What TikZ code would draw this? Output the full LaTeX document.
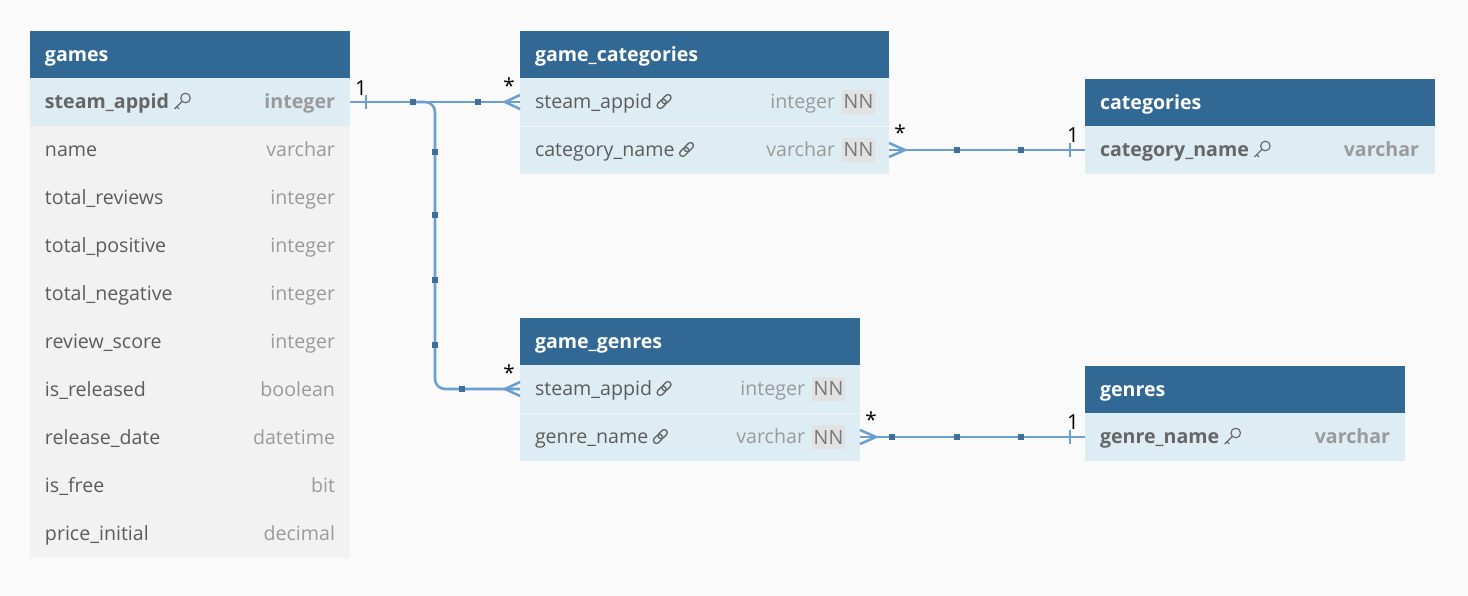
\documentclass[tikz,border=0pt]{standalone}
\usepackage{fontspec}
\setmainfont{Open Sans}
\usetikzlibrary{calc}
\definecolor{hdr}{HTML}{316894}
\definecolor{rowb}{HTML}{DEECF4}
\definecolor{rowg}{HTML}{F2F2F2}
\definecolor{bgc}{HTML}{FAFAFA}
\definecolor{lnk}{HTML}{6A9FD0}
\definecolor{sqc}{HTML}{3E6F9A}
\definecolor{fcol}{HTML}{5C5C5C}
\definecolor{pkcol}{HTML}{666666}
\definecolor{tcol}{HTML}{9A9A9A}
\definecolor{nnfill}{HTML}{E2E2E2}
\definecolor{nncol}{HTML}{777777}
\newcommand\fsz{\fontsize{14.7}{17.5}\selectfont}
\begin{document}
\begin{tikzpicture}[x=0.75pt,y=-0.75pt,
  every node/.style={inner sep=0pt, outer sep=0pt},
  hdrbox/.style={fill=hdr, anchor=north west, minimum height=35.25pt},
  rowbox/.style={fill=#1, anchor=north west, minimum height=36pt},
  htxt/.style={text=white, font=\fsz\bfseries, anchor=base west},
  fname/.style={text=fcol, font=\fsz, anchor=base west},
  ftype/.style={text=tcol, font=\fsz, anchor=base east},
  pkname/.style={text=pkcol, font=\fsz\bfseries, anchor=base west},
  pktype/.style={text=tcol, font=\fsz\bfseries, anchor=base east},
  nnbadge/.style={fill=nnfill, rounded corners=1.5pt, text=nncol, font=\fsz, minimum height=18pt, minimum width=24.75pt, anchor=east},
  rel/.style={draw=lnk, line width=1.9pt},
  sqr/.style={fill=sqc, minimum size=3.9pt, inner sep=0pt},
  card/.style={font=\fontsize{15.5}{18}\selectfont, text=black},
  keyicon/.pic={
    \draw[pkcol, line width=0.85pt] (3.5,-3.5) circle (4.8);
    \draw[pkcol, line width=0.85pt] (0.1,-0.1) -- (-7.5,7.5) (-5.2,5.2) -- (-3,7.4);
  },
  linkicon/.pic={
    \begin{scope}[rotate=45]
      \draw[pkcol, line width=1pt, rounded corners=2.1pt] (-8.5,-3) rectangle (1.8,3);
      \draw[pkcol, line width=1pt, rounded corners=2.1pt] (-1.8,-3) rectangle (8.5,3);
    \end{scope}
  }
]
\fill[bgc] (0,0) rectangle (1468,596);
\useasboundingbox (0,0) rectangle (1468,596);

% ---------------- games
\node[hdrbox, minimum width=240pt] (gamesH) at (30,31) {};
\node[htxt] (gamesT) at (45,61) {games};
\node[rowbox=rowb, minimum width=240pt] (g1) at (30,78) {};
\node[pkname] (g1n) at (45,108.5) {steam\_appid};
\pic at ($(g1n.base east)+(13,-7)$) {keyicon};
\node[pktype] (g1t) at (335,108.5) {integer};
\foreach \i/\n/\t in {2/name/varchar, 3/total\_reviews/integer, 4/total\_positive/integer,
  5/total\_negative/integer, 6/review\_score/integer, 7/is\_released/boolean,
  8/release\_date/datetime, 9/is\_free/bit, 10/price\_initial/decimal} {
  \node[rowbox=rowg, minimum width=240pt] (g\i) at (30,{78+48*(\i-1)}) {};
  \node[fname] (g\i n) at (45,{108.5+48*(\i-1)}) {\n};
  \node[ftype] (g\i t) at (335,{108.5+48*(\i-1)}) {\t};
}

% ---------------- game_categories
\node[hdrbox, minimum width=276.75pt] (gcH) at (520,31) {};
\node[htxt] (gcT) at (535,61) {game\_categories};
\node[rowbox=rowb, minimum width=276.75pt] (gc1) at (520,78) {};
\node[rowbox=rowb, minimum width=276.75pt] (gc2) at (520,126) {};
\draw[white!55!rowb, line width=0.6pt] (gc2.north west) -- (gc2.north east);
\node[fname] (gc1n) at (535,108.5) {steam\_appid};
\pic at ($(gc1n.base east)+(12,-7)$) {linkicon};
\node[nnbadge] (gc1b) at (875,102) {NN};
\node[ftype] (gc1t) at ($(gc1b.west)+(-7,6.5)$) {integer};
\node[fname] (gc2n) at (535,156.5) {category\_name};
\pic at ($(gc2n.base east)+(12,-7)$) {linkicon};
\node[nnbadge] (gc2b) at (875,150) {NN};
\node[ftype] (gc2t) at ($(gc2b.west)+(-7,6.5)$) {varchar};

% ---------------- categories
\node[hdrbox, minimum width=262.5pt] (cH) at (1085,79) {};
\node[htxt] (cT) at (1100,109) {categories};
\node[rowbox=rowb, minimum width=262.5pt] (c1) at (1085,126) {};
\node[pkname] (c1n) at (1100,156.5) {category\_name};
\pic at ($(c1n.base east)+(13,-7)$) {keyicon};
\node[pktype] (c1t) at (1419,156.5) {varchar};

% ---------------- game_genres
\node[hdrbox, minimum width=255pt] (ggH) at (520,318) {};
\node[htxt] (ggT) at (535,348) {game\_genres};
\node[rowbox=rowb, minimum width=255pt] (gg1) at (520,365) {};
\node[rowbox=rowb, minimum width=255pt] (gg2) at (520,413) {};
\draw[white!55!rowb, line width=0.6pt] (gg2.north west) -- (gg2.north east);
\node[fname] (gg1n) at (535,395.5) {steam\_appid};
\pic at ($(gg1n.base east)+(12,-7)$) {linkicon};
\node[nnbadge] (gg1b) at (845,389) {NN};
\node[ftype] (gg1t) at ($(gg1b.west)+(-7,6.5)$) {integer};
\node[fname] (gg2n) at (535,443.5) {genre\_name};
\pic at ($(gg2n.base east)+(12,-7)$) {linkicon};
\node[nnbadge] (gg2b) at (845,437) {NN};
\node[ftype] (gg2t) at ($(gg2b.west)+(-7,6.5)$) {varchar};

% ---------------- genres
\node[hdrbox, minimum width=240pt] (geH) at (1085,366) {};
\node[htxt] (geT) at (1100,396) {genres};
\node[rowbox=rowb, minimum width=240pt] (ge1) at (1085,413) {};
\node[pkname] (ge1n) at (1100,443.5) {genre\_name};
\pic at ($(ge1n.base east)+(13,-7)$) {keyicon};
\node[pktype] (ge1t) at (1390,443.5) {varchar};

% ---------------- connector games -> game_categories
\draw[rel] (g1.east) -- (gc1.west);
\draw[rel] ($(g1.east)+(16,-7)$) -- ($(g1.east)+(16,7)$);
\draw[rel] ($(gc1.west)+(0,-7)$) -- ($(gc1.west)+(-15,0)$) -- ($(gc1.west)+(0,7)$);
\coordinate (br1) at ($(g1.east)+(63,0)$);
\coordinate (cv) at ($(gg1.west)+(-85,0)$);
\draw[rel, rounded corners=7.5pt] (br1) -| (cv) -- (gg1.west);
\draw[rel] ($(gg1.west)+(0,-7)$) -- ($(gg1.west)+(-15,0)$) -- ($(gg1.west)+(0,7)$);
\node[sqr] (s1) at (br1) {};
\node[sqr] (s2) at ($(g1.east)+(128,0)$) {};
\node[sqr] (s3) at ($(cv)+(0,-237)$) {};
\node[sqr] (s4) at ($(cv)+(0,-174)$) {};
\node[sqr] (s5) at ($(cv)+(0,-109)$) {};
\node[sqr] (s6) at ($(cv)+(0,-44)$) {};
\node[sqr] (s7) at ($(gg1.west)+(-58,0)$) {};
\node[card] (l1) at ($(g1.east)+(11,-14)$) {1};
\node[card] (l2) at ($(gc1.west)+(-11,-16)$) {*};
\node[card] (l3) at ($(gg1.west)+(-11,-16)$) {*};

% ---------------- connector game_categories -> categories
\draw[rel] (gc2.east) -- (c1.west);
\draw[rel] ($(gc2.east)+(0,-7)$) -- ($(gc2.east)+(16,0)$) -- ($(gc2.east)+(0,7)$);
\draw[rel] ($(c1.west)+(-15,-7)$) -- ($(c1.west)+(-15,7)$);
\node[sqr] (s8) at ($(gc2.east)+(68,0)$) {};
\node[sqr] (s9) at ($(gc2.east)+(132,0)$) {};
\node[card] (l4) at ($(gc2.east)+(11,-17)$) {*};
\node[card] (l5) at ($(c1.west)+(-12,-15)$) {1};

% ---------------- connector game_genres -> genres
\draw[rel] (gg2.east) -- (ge1.west);
\draw[rel] ($(gg2.east)+(0,-7)$) -- ($(gg2.east)+(16,0)$) -- ($(gg2.east)+(0,7)$);
\draw[rel] ($(ge1.west)+(-15,-7)$) -- ($(ge1.west)+(-15,7)$);
\node[sqr] (s10) at ($(gg2.east)+(32,0)$) {};
\node[sqr] (s11) at ($(gg2.east)+(97,0)$) {};
\node[sqr] (s12) at ($(gg2.east)+(161,0)$) {};
\node[card] (l6) at ($(gg2.east)+(11,-17)$) {*};
\node[card] (l7) at ($(ge1.west)+(-12,-15)$) {1};
\end{tikzpicture}
\end{document}
